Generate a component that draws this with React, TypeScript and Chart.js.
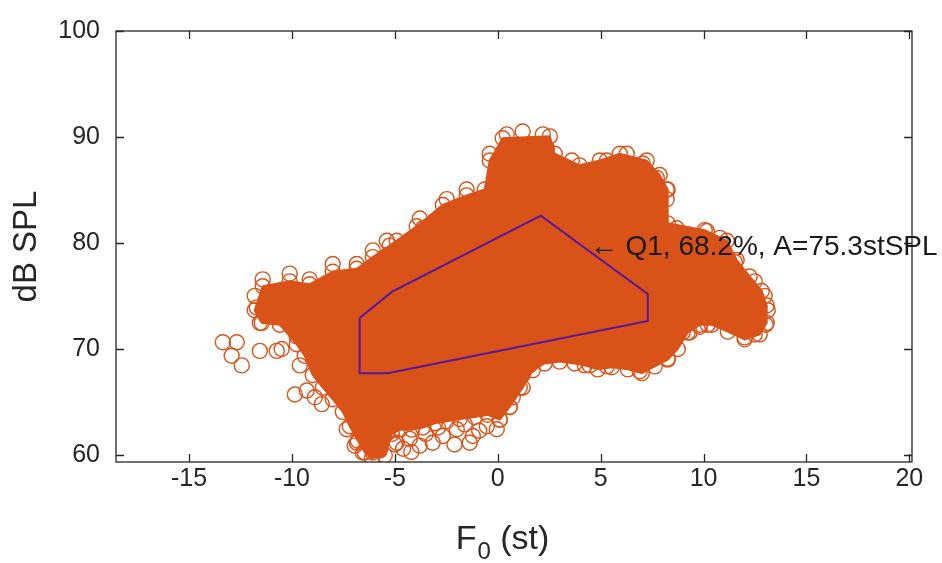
import React, { useEffect, useRef } from "react";
import { Chart, registerables } from "chart.js";

Chart.register(...registerables);

// Axis ranges and ticks
const X_MIN = -18.55;
const X_MAX = 20.13;
const Y_MIN = 59.35;
const Y_MAX = 100;
const X_TICKS = [-15, -10, -5, 0, 5, 10, 15, 20];
const Y_TICKS = [60, 70, 80, 90, 100];
const X_LABEL_MAIN = "F";
const X_LABEL_SUB = "0";
const X_LABEL_REST = " (st)";
const Y_LABEL = "dB SPL";

// Circles on the outer boundary of the saturated (fully overlapped) cloud, in order around it
const CORE_X = [
  -11.42, -10.11, -9.14, -8.02, -6.85, -6.07, -5.25, -3.94, -2.67, -1.51, -0.63, -0.39, 0.24, 2.53, 2.77,
  3.98, 4.96, 5.93, 7.24, 7.87, 8.26, 8.26, 10.06, 11.13, 11.61, 12.24, 12.83, 13.07, 13.07, 12.73, 12.0,
  11.18, 10.4, 9.82, 9.23, 8.75, 8.26, 7.63, 7.0, 6.32, 5.54, 4.86, 4.23, 3.74, 3.01, 2.28, 1.7, 1.21, 0.58,
  0.1, -0.49, -1.12, -1.85, -2.48, -3.06, -3.64, -4.18, -4.76, -5.15, -5.49, -6.12, -6.46, -6.8, -7.19,
  -7.53, -8.02, -8.5, -8.99, -9.38, -9.77, -10.59, -11.47, -11.81,
];
const CORE_Y = [
  75.93, 76.39, 76.12, 77.3, 77.58, 78.67, 79.76, 81.59, 83.59, 84.5, 85.05, 87.78, 89.88, 90.06, 88.42,
  87.33, 87.78, 88.42, 87.78, 86.42, 85.05, 81.86, 81.22, 80.22, 78.4, 76.85, 75.48, 74.11, 72.47, 71.38, 70.92,
  71.65, 72.29, 72.29, 71.56, 70.01, 69.01, 68.37, 67.73, 68.09, 68.28, 68.09, 68.46, 68.64, 68.82, 68.64, 68.0,
  66.36, 64.54, 63.35, 63.8, 63.6, 63.4, 63.2, 63.0, 62.6, 62.4, 62.4, 62.0, 59.98, 59.71, 60.25, 61.35,
  62.72, 64.08, 65.27, 66.36, 67.55, 69.37, 70.46, 72.29, 72.47, 73.66,
];

// Further individual circles around and outside the cloud
const EDGE_X = [
  -13.36, -12.68, -12.93, -12.44, -11.56, -10.74, -10.5, -9.77, -9.62, -9.86, -9.28, -8.89, -8.55, -7.34,
  -7.05, -7.34, -6.85, -6.56, -6.07, -6.95, -5.73, -5.35,
  -11.42, -11.71, -11.81, -11.56, -10.11, -9.14, -8.02, -6.85, -6.07, -5.39,
  -4.91, -3.79, -3.64, -2.48, -1.51, -0.39, -0.05, 0.44, 1.21, 2.19, 2.38, 2.87, 3.6, 5.3, 6.27, 7.05, 7.73,
  8.21, 8.21, 8.7, 10.16, 10.79,
  11.52, 12.49, 12.97, 13.12, 13.02, 12.49, 12.0,
  4.47, 5.3, 5.59, 6.9, 8.26, 8.99, 9.33, 9.82, 10.2,
  1.55, 1.21, 1.07, 0.73, 0.58, 0.1, -0.05, -0.53, -1.21, -1.36, -1.99, -2.67, -3.16, -3.79, -4.28, -4.91,
  -3.64, -2.67, -2.33, -1.36, -2.1, -3.5, -4.6, -0.9, -2.9, -1.6, -4.2, -5.0,
];
const EDGE_Y = [
  70.65, 70.65, 69.37, 68.46, 69.83, 69.83, 70.01, 71.19, 68.46, 65.72, 66.09, 65.45, 64.81, 66.09,
  64.54, 62.44, 61.17, 60.25, 60.25, 60.89, 60.43, 62.08,
  76.57, 73.93, 75.02, 72.47, 77.12, 76.57, 78.03, 78.03, 79.31, 80.22,
  80.22, 82.32, 81.4, 84.14, 85.05, 88.42, 87.51, 90.25, 90.52, 90.25, 88.97, 87.51, 87.78, 87.78, 88.42, 87.51, 86.14,
  85.05, 84.14, 81.4, 81.13, 80.49,
  78.21, 76.39, 75.02, 73.66, 72.29, 71.38, 71.1,
  68.46, 68.37, 69.37, 67.91, 69.1, 71.56, 71.56, 72.11, 72.29,
  68.46, 67.55, 66.36, 65.45, 64.54, 63.35, 62.44, 62.72, 61.8, 61.17, 62.44, 61.8, 61.17, 60.89, 61.53, 61.17,
  63.35, 63.9, 65.18, 64.54, 61.0, 62.0, 60.6, 62.3, 62.6, 62.9, 60.3, 61.0,
];

// Q1 contour (closed)
const Q1_X = [-6.71, -5.15, 2.09, 7.29, 7.29, -5.35, -6.71, -6.71];
const Q1_Y = [72.93, 75.39, 82.59, 75.2, 72.65, 67.73, 67.73, 72.93];

const NOTE_TEXT = "\u2190 Q1, 68.2%, A=75.3stSPL";
const NOTE_X = 4.47;
const NOTE_Y = 79.58;

const ORANGE = "#D95319";
const AXIS = "#262626";
const FONT = '"Liberation Sans", Arial, Helvetica, sans-serif';

const framePlugin = {
  id: "frame",
  afterDatasetsDraw(chart: any) {
    const { ctx, chartArea: a, scales } = chart;
    const xs = scales.x;
    const ys = scales.y;
    ctx.save();
    ctx.strokeStyle = AXIS;
    ctx.lineWidth = 1.3;
    ctx.strokeRect(a.left, a.top, a.right - a.left, a.bottom - a.top);
    ctx.beginPath();
    const tl = 8;
    X_TICKS.forEach((v) => {
      const p = Math.round(xs.getPixelForValue(v)) + 0.5;
      ctx.moveTo(p, a.bottom);
      ctx.lineTo(p, a.bottom - tl);
      ctx.moveTo(p, a.top);
      ctx.lineTo(p, a.top + tl);
    });
    Y_TICKS.forEach((v) => {
      const p = Math.round(ys.getPixelForValue(v)) + 0.5;
      ctx.moveTo(a.left, p);
      ctx.lineTo(a.left + tl, p);
      ctx.moveTo(a.right, p);
      ctx.lineTo(a.right - tl, p);
    });
    ctx.stroke();

    // annotation
    ctx.fillStyle = "#1a1a1a";
    ctx.font = `28px ${FONT}`;
    ctx.textAlign = "left";
    ctx.textBaseline = "middle";
    ctx.fillText(NOTE_TEXT, xs.getPixelForValue(NOTE_X), ys.getPixelForValue(NOTE_Y));

    // x axis title with subscript
    ctx.fillStyle = AXIS;
    ctx.textBaseline = "alphabetic";
    const mainFont = `34px ${FONT}`;
    const subFont = `24px ${FONT}`;
    ctx.font = mainFont;
    const wF = ctx.measureText(X_LABEL_MAIN).width;
    const wR = ctx.measureText(X_LABEL_REST).width;
    ctx.font = subFont;
    const wS = ctx.measureText(X_LABEL_SUB).width;
    const total = wF + wS + wR;
    const cx = (a.left + a.right) / 2 - 12;
    let sx = cx - total / 2;
    const base = a.bottom + 87;
    ctx.font = mainFont;
    ctx.fillText(X_LABEL_MAIN, sx, base);
    sx += wF + 1;
    ctx.font = subFont;
    ctx.fillText(X_LABEL_SUB, sx, base + 10);
    sx += wS;
    ctx.font = mainFont;
    ctx.fillText(X_LABEL_REST, sx, base);
    ctx.restore();
  },
};

export default function App() {
  const ref = useRef<HTMLCanvasElement | null>(null);

  useEffect(() => {
    if (!ref.current) return;
    const core = CORE_X.map((x, i) => ({ x, y: CORE_Y[i] }));
    core.push({ x: CORE_X[0], y: CORE_Y[0] });
    const circles = EDGE_X.map((x, i) => ({ x, y: EDGE_Y[i] })).concat(
      CORE_X.map((x, i) => ({ x, y: CORE_Y[i] }))
    );
    const q1 = Q1_X.map((x, i) => ({ x, y: Q1_Y[i] }));

    const chart = new Chart(ref.current, {
      type: "scatter",
      data: {
        datasets: [
          {
            type: "line",
            label: "Q1",
            data: q1,
            borderColor: "#55179E",
            borderWidth: 2,
            pointRadius: 0,
            fill: false,
            tension: 0,
            order: 1,
          } as any,
          {
            label: "samples",
            data: circles,
            pointRadius: 7.5,
            pointHoverRadius: 7.5,
            pointStyle: "circle",
            backgroundColor: "rgba(0,0,0,0)",
            borderColor: ORANGE,
            borderWidth: 1.4,
            order: 2,
          },
          {
            type: "line",
            label: "dense",
            data: core,
            borderColor: ORANGE,
            backgroundColor: ORANGE,
            borderWidth: 2,
            pointRadius: 0,
            fill: "shape",
            tension: 0,
            order: 3,
          } as any,
        ],
      },
      options: {
        responsive: false,
        maintainAspectRatio: false,
        animation: false,
        devicePixelRatio: 1,
        layout: { padding: { left: 0, right: 30, top: 16, bottom: 0 } },
        plugins: { legend: { display: false }, tooltip: { enabled: false } },
        scales: {
          x: {
            type: "linear",
            min: X_MIN,
            max: X_MAX,
            afterBuildTicks: (s: any) => {
              s.ticks = X_TICKS.map((v) => ({ value: v }));
            },
            afterFit: (s: any) => {
              s.height = 101;
            },
            grid: { display: false, drawTicks: false },
            border: { display: false },
            ticks: {
              color: AXIS,
              font: { family: FONT, size: 25 },
              padding: 2,
              maxRotation: 0,
              autoSkip: false,
              callback: (v: any) => String(v),
            },
          },
          y: {
            type: "linear",
            min: Y_MIN,
            max: Y_MAX,
            afterBuildTicks: (s: any) => {
              s.ticks = Y_TICKS.map((v) => ({ value: v }));
            },
            afterFit: (s: any) => {
              s.width = 116;
            },
            grid: { display: false, drawTicks: false },
            border: { display: false },
            ticks: {
              color: AXIS,
              font: { family: FONT, size: 25 },
              padding: 16,
              autoSkip: false,
              callback: (v: any) => String(v),
            },
            title: {
              display: true,
              text: Y_LABEL,
              color: AXIS,
              font: { family: FONT, size: 33 },
              padding: { top: 7, bottom: 0 },
            },
          },
        },
      },
      plugins: [framePlugin],
    });
    return () => chart.destroy();
  }, []);

  return (
    <div style={{ position: "fixed", left: 0, top: 0, width: 942, height: 563, background: "#fff" }}>
      <canvas ref={ref} width={942} height={563} style={{ display: "block" }} />
    </div>
  );
}
